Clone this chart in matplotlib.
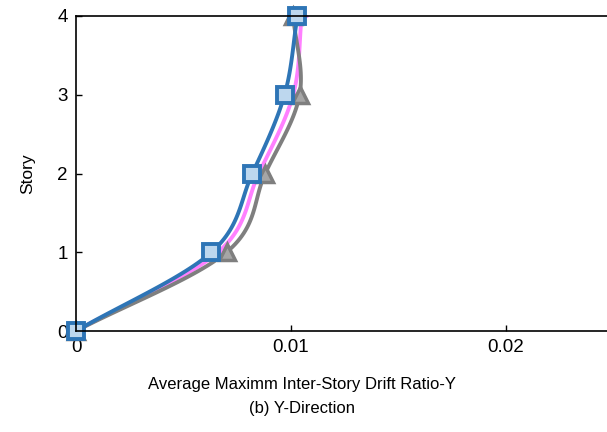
import numpy as np
import matplotlib
matplotlib.use("Agg")
import matplotlib.pyplot as plt

plt.rcParams['font.family'] = ['Liberation Sans', 'DejaVu Sans']

stories = [0, 1, 2, 3, 4]
drift_pink = [0.0, 0.0066, 0.0085, 0.0101, 0.0105]
drift_gray = [0.0, 0.0070, 0.0088, 0.0104, 0.0101]
drift_blue = [0.0, 0.0063, 0.0082, 0.0097, 0.0103]
xticks = [0, 0.01, 0.02]
xticklabels = ['0', '0.01', '0.02']


def smooth(x, y, n=30):
    # catmull-rom like excel smoothed line
    x = np.asarray(x, float)
    y = np.asarray(y, float)
    px = np.concatenate([[2 * x[0] - x[1]], x, [2 * x[-1] - x[-2]]])
    py = np.concatenate([[2 * y[0] - y[1]], y, [2 * y[-1] - y[-2]]])
    t = np.linspace(0, 1, n)
    xs, ys = [], []
    for i in range(1, len(px) - 2):
        for p, out in ((px, xs), (py, ys)):
            p0, p1, p2, p3 = p[i - 1], p[i], p[i + 1], p[i + 2]
            out.extend(0.5 * (2 * p1 + (-p0 + p2) * t
                              + (2 * p0 - 5 * p1 + 4 * p2 - p3) * t ** 2
                              + (-p0 + 3 * p1 - 3 * p2 + p3) * t ** 3))
    return xs, ys


fig = plt.figure(figsize=(6.07, 4.32), dpi=100)
ax = fig.add_axes([76 / 607, 1 - 331 / 432, 1 - 76 / 607, 315 / 432])

sx, sy = smooth(drift_pink, stories)
ax.plot(sx, sy, color='#ff80ff', lw=2.8, clip_on=False)
ax.plot(drift_pink, stories, ls='none', marker='>', ms=9, color='#ff80ff', clip_on=False)

sx, sy = smooth(drift_gray, stories)
ax.plot(sx, sy, color='#7f7f7f', lw=2.8, clip_on=False)
ax.plot(drift_gray, stories, ls='none', marker='^', ms=11, mfc='#a6a6a6',
        mec='#7f7f7f', mew=2.5, clip_on=False)

sx, sy = smooth(drift_blue, stories)
ax.plot(sx, sy, color='#2e75b6', lw=2.8, clip_on=False)
ax.plot(drift_blue, stories, ls='none', marker='s', ms=11, mfc='#bdd7ee',
        mec='#2e75b6', mew=2.8, clip_on=False)

ax.set_xlim(0, 531 / 21500)
ax.set_ylim(0, 4)
ax.set_xticks(xticks)
ax.set_xticklabels(xticklabels)
ax.set_yticks(stories)
ax.tick_params(direction='in', length=4, width=1, labelsize=13.5, pad=6)
ax.spines['right'].set_visible(False)
for s in ['left', 'bottom', 'top']:
    ax.spines[s].set_linewidth(1.2)
ax.set_ylabel('Story', fontsize=12.5, labelpad=16)

fig.text(302 / 607, 1 - 384 / 432, 'Average Maximm Inter-Story Drift Ratio-Y',
         ha='center', va='center', fontsize=12)
fig.text(302 / 607, 1 - 408 / 432, '(b) Y-Direction', ha='center', va='center',
         fontsize=12)

fig.savefig('out.png', dpi=100)
